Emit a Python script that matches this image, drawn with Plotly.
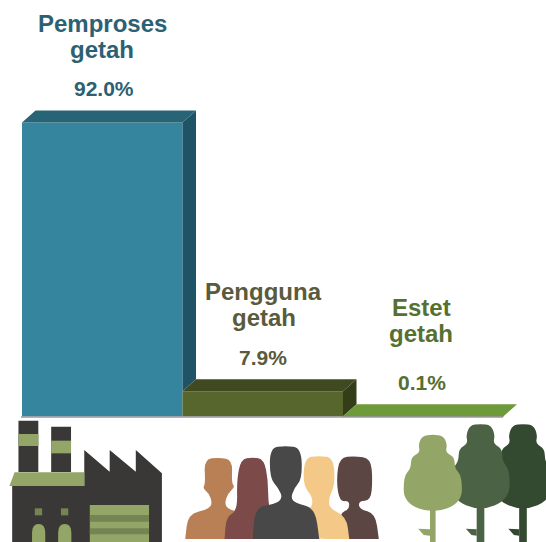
import plotly.graph_objects as go

# ---- data ----
categories = ["Pemproses getah", "Pengguna getah", "Estet getah"]
values = [92.0, 7.9, 0.1]
value_labels = ["92.0%", "7.9%", "0.1%"]
name_line1 = ["Pemproses", "Pengguna", "Estet"]
name_line2 = ["getah", "getah", "getah"]

front_colors = ["#35859f", "#56662c", "#6f9a3a"]
top_colors = ["#276475", "#3f4a20", "#6f9a3a"]
side_colors = ["#1f5467", "#333d18", "#6f9a3a"]
text_colors = ["#2b6172", "#5a5a3c", "#55702f"]

W, H = 546, 542
BASE_PX, UNIT_PX = 416.5, 3.196      # baseline row, pixels per percent
BAND_PX, LEFT_PX = 160.5, 22.0       # category width, left bar edge
DX, DY = 13.5, 12.0                  # 3-D depth in pixels
dxu, dyu = DX / BAND_PX, DY / UNIT_PX

x_range = [-0.5 - LEFT_PX / BAND_PX, -0.5 + (W - LEFT_PX) / BAND_PX]
y_range = [-(H - BASE_PX) / UNIT_PX, BASE_PX / UNIT_PX]

fig = go.Figure()
fig.add_trace(go.Bar(x=list(range(3)), y=values, width=1, marker=dict(color=front_colors, line=dict(width=0)),
                     hoverinfo="skip", showlegend=False))
for i, v in enumerate(values):
    r = i + 0.5
    nxt = values[i + 1] if i + 1 < len(values) else 0
    fig.add_trace(go.Scatter(x=[r, r + dxu, r + dxu, r, r], y=[nxt, nxt + dyu, v + dyu, v, nxt], mode="lines",
                             fill="toself", fillcolor=side_colors[i], line=dict(width=0),
                             hoverinfo="skip", showlegend=False))
for i, v in enumerate(values):
    l, r = i - 0.5, i + 0.5
    fig.add_trace(go.Scatter(x=[l, r, r + dxu, l + dxu, l], y=[v, v, v + dyu, v + dyu, v], mode="lines",
                             fill="toself", fillcolor=top_colors[i], line=dict(width=0),
                             hoverinfo="skip", showlegend=False))

# ---- decoration: icons, in crop coordinates ----
def P(zx, zy):
    return (zx / 2.872) / W, 1 - (370 + zy / 3) / H

def poly(points):
    pts = [P(*p) for p in points]
    return "M" + " L".join(f"{x:.5f},{y:.5f}" for x, y in pts) + " Z"

def smooth(points):
    pts = [P(*p) for p in points]
    n = len(pts)
    mid = lambda a, b: ((a[0] + b[0]) / 2, (a[1] + b[1]) / 2)
    s = mid(pts[-1], pts[0])
    d = f"M{s[0]:.5f},{s[1]:.5f}"
    for i in range(n):
        m = mid(pts[i], pts[(i + 1) % n])
        d += f" Q{pts[i][0]:.5f},{pts[i][1]:.5f} {m[0]:.5f},{m[1]:.5f}"
    return d + " Z"

shapes = []
def add(path, color):
    shapes.append(dict(type="path", xref="paper", yref="paper", path=path, fillcolor=color, line=dict(width=0), layer="above"))

def rect(x0, y0, x1, y1):
    return poly([(x0, y0), (x1, y0), (x1, y1), (x0, y1)])

DARK, GREEN, STRIPE = "#3a3836", "#93a667", "#748555"
add(rect(53, 152, 110, 306), DARK)
add(rect(147, 170, 204, 306), DARK)
add(rect(53, 192, 110, 228), GREEN)
add(rect(147, 212, 204, 250), GREEN)
add(poly([(35, 348), (242, 348), (242, 240), (315, 305), (315, 240), (390, 305), (390, 240), (465, 310),
          (465, 516), (35, 516)]), DARK)
add(poly([(42, 307), (242, 307), (242, 348), (27, 348)]), GREEN)
add(rect(100, 415, 121, 436), STRIPE)
add(rect(175, 415, 196, 436), STRIPE)
for a, b in [(92, 130), (167, 205)]:
    add(smooth([(a, 516), (a, 516), (a, 462), (b, 462), (b, 516), (b, 516)]), GREEN)
add(rect(258, 405, 428, 516), GREEN)
add(rect(258, 435, 428, 455), STRIPE)
add(rect(258, 475, 428, 493), STRIPE)

# people
add(smooth([(532, 507), (532, 507), (540, 432), (598, 418), (610, 400), (600, 370), (582, 355), (590, 340), (586, 268), (630, 262),
            (668, 270), (665, 340), (675, 350), (655, 370), (645, 400), (655, 418), (700, 430), (700, 507), (700, 507)]), "#b97f55")
add(smooth([(975, 507), (975, 507), (975, 430), (1003, 418), (1003, 392), (975, 395), (966, 330), (975, 262), (1020, 258),
            (1065, 265), (1070, 330), (1065, 392), (1030, 392), (1032, 418), (1078, 430), (1088, 507), (1088, 507)]), "#5b4644")
add(smooth([(878, 507), (878, 420), (897, 410), (897, 380), (870, 345), (875, 262), (915, 258), (958, 262), (962, 345),
            (945, 380), (945, 415), (995, 440), (1003, 507), (1003, 507)]), "#f4c887")
add(smooth([(645, 507), (645, 507), (650, 440), (682, 422), (680, 330), (692, 268), (725, 262), (758, 268), (770, 330), (770, 400),
            (790, 507), (790, 507)]), "#7b4a49")
add(smooth([(726, 507), (726, 507), (732, 412), (790, 402), (812, 385), (800, 355), (775, 325), (775, 232), (820, 228), (865, 232),
            (868, 325), (845, 355), (835, 385), (850, 400), (905, 415), (917, 507), (917, 507)]), "#484848")

# trees
CROWN = [(0, -10), (-32, -6), (-44, 22), (-38, 46), (-66, 62), (-66, 97), (-88, 122), (-88, 205), (0, 240)]
def tree(cx, top, sx, sy, trunk, color):
    right = [(-a, b) for a, b in CROWN[-2:0:-1]]
    add(smooth([(cx + a * sx, top + b * sy) for a, b in CROWN + right]), color)
    add(rect(cx - trunk, top + 200 * sy, cx + trunk, 516), color)
    add(poly([(cx - trunk, 497), (cx - 26, 495), (cx - 42, 476), (cx - trunk, 478)]), color)

tree(1502, 172, 0.95, 1.05, 11, "#344a30")
tree(1380, 172, 0.95, 1.05, 11, "#4c6244")
tree(1243, 203, 0.95, 0.95, 8, GREEN)

# grey baseline
def ypx(p):
    return 1 - p / H
shapes.append(dict(type="line", xref="paper", yref="paper", x0=21 / W, x1=503 / W, y0=ypx(417), y1=ypx(417),
                   line=dict(color="#9a97a0", width=1.5), layer="above"))

# ---- text ----
annotations = []
name_rows = [(24, 49), (291, 317), (307, 333)]
name_shift = [0, 1, -2]
value_shift = [2, 0, -1]
for i, v in enumerate(values):
    annotations.append(dict(x=i, y=v + dyu, xref="x", yref="y", xshift=value_shift[i], yshift=22,
                            text=f"<b>{value_labels[i]}</b>", showarrow=False, yanchor="middle",
                            font=dict(family="Liberation Sans", size=21, color=text_colors[i])))
    for txt, row in zip((name_line1[i], name_line2[i]), name_rows[i]):
        annotations.append(dict(x=i, y=ypx(row), xref="x", yref="paper", xshift=name_shift[i], text=f"<b>{txt}</b>",
                                showarrow=False, yanchor="middle",
                                font=dict(family="Liberation Sans", size=24, color=text_colors[i])))

fig.update_layout(width=W, height=H, margin=dict(l=0, r=0, t=0, b=0), paper_bgcolor="white", plot_bgcolor="white",
                  xaxis=dict(range=x_range, visible=False), yaxis=dict(range=y_range, visible=False),
                  shapes=shapes, annotations=annotations, showlegend=False)
fig.write_html("out.html", config=dict(displayModeBar=False), post_script="document.body.style.margin='0';document.body.style.overflow='hidden';")
